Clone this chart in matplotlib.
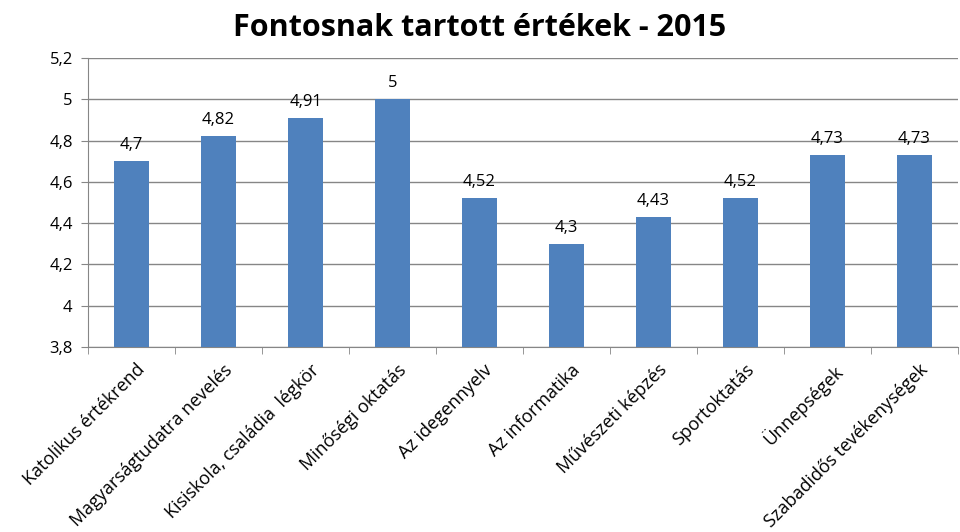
import matplotlib
matplotlib.use("Agg")
import matplotlib.pyplot as plt
import numpy as np

categories = ["Katolikus értékrend", "Magyarságtudatra nevelés", "Kisiskola, családia  légkör",
              "Minőségi oktatás", "Az idegennyelv", "Az informatika", "Művészeti képzés",
              "Sportoktatás", "Ünnepségek", "Szabadidős tevékenységek"]
values = [4.7, 4.82, 4.91, 5.0, 4.52, 4.3, 4.43, 4.52, 4.73, 4.73]
labels = ["4,7", "4,82", "4,91", "5", "4,52", "4,3", "4,43", "4,52", "4,73", "4,73"]
yticks = [3.8, 4.0, 4.2, 4.4, 4.6, 4.8, 5.0, 5.2]
ytick_labels = ["3,8", "4", "4,2", "4,4", "4,6", "4,8", "5", "5,2"]

plt.rcParams['font.family'] = ['Open Sans', 'DejaVu Sans']

fig = plt.figure(figsize=(9.6, 5.32), dpi=100)
ax = fig.add_axes([88/960, 1-347/532, 870/960, 289/532])

x = np.arange(len(categories))
ax.bar(x, values, width=0.4, color="#4F81BD", zorder=3)
for xi, v, l in zip(x, values, labels):
    ax.text(xi, v + 0.04, l, ha="center", va="bottom", fontsize=12, color="black")

ax.set_ylim(3.8, 5.2)
ax.set_xlim(-0.5, len(categories) - 0.5)
ax.set_yticks(yticks)
ax.set_yticklabels(ytick_labels, fontsize=12)
ax.yaxis.grid(True, color="#868686", linewidth=1, zorder=0)
ax.set_axisbelow(True)

ax.set_xticks(x + 0.05)
ax.set_xticklabels(categories, rotation=45, ha="right", rotation_mode="anchor", fontsize=13)
ax.tick_params(axis="x", length=0, pad=10)
ax.set_xticks(np.arange(-0.5, len(categories)), minor=True)
ax.tick_params(axis="x", which="minor", length=5, color="#868686")
ax.tick_params(axis="y", length=5, color="#868686", pad=6)

for s in ["top", "right"]:
    ax.spines[s].set_visible(False)
ax.spines["left"].set_color("#868686")
ax.spines["bottom"].set_color("#868686")

fig.suptitle("Fontosnak tartott értékek - 2015", fontsize=22, fontweight="bold", y=0.975)
fig.savefig("out.png", dpi=100)
